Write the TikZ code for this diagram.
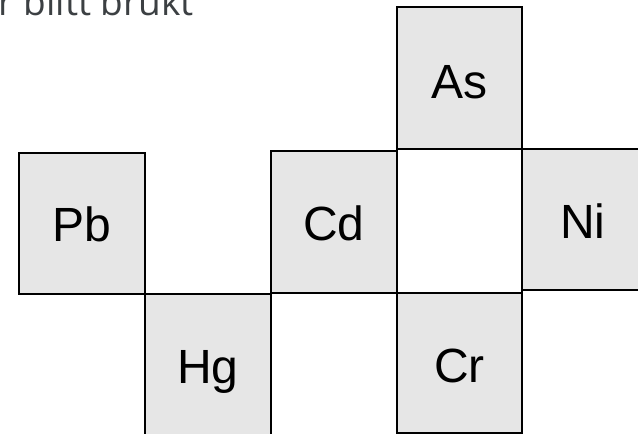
\documentclass[tikz,border=0pt]{standalone}
\usepackage{fontspec}
\setmainfont{Liberation Sans}
\newfontfamily\titlefont{Open Sans}
\definecolor{boxfill}{HTML}{E6E6E6}
\definecolor{titlegray}{HTML}{3C4043}
\tikzset{
  cell/.style={draw=black, line width=1.8pt, fill=boxfill, inner sep=0pt, outer sep=0pt},
  emptycell/.style={draw=black, line width=1.8pt, fill=white, inner sep=0pt, outer sep=0pt},
  lbl/.style={inner sep=0pt, anchor=base, font=\fontsize{48}{48}\selectfont, text=black}
}
\begin{document}
\begin{tikzpicture}[x=1pt,y=-1pt]
\useasboundingbox (0,0) rectangle (638,434);
\clip (0,0) rectangle (638,434);
\fill[white] (0,0) rectangle (638,434);
% boxes (px coordinates, y downward)
\node[cell, minimum width=126pt, minimum height=141pt] (pb) at (82,223.5) {};
\node[cell, minimum width=126pt, minimum height=150pt] (hg) at (208,369) {};
\node[cell, minimum width=126pt, minimum height=142pt] (cd) at (334,222) {};
\node[cell, minimum width=125pt, minimum height=142pt] (as) at (459.5,78) {};
\node[emptycell, minimum width=125pt, minimum height=144pt] (mid) at (459.5,221) {};
\node[cell, minimum width=130pt, minimum height=141pt] (ni) at (587,219.5) {};
\node[cell, minimum width=125pt, minimum height=140pt] (cr) at (459.5,363) {};
% labels
\node[lbl] (pbt) at (82,241.5) {Pb};
\node[lbl] (hgt) at (208,383) {Hg};
\node[lbl] (cdt) at (334,240) {Cd};
\node[lbl] (ast) at (459.5,98) {As};
\node[lbl] (nit) at (583,238) {Ni};
\node[lbl] (crt) at (459.5,382) {Cr};
% cut-off title text
\node[inner sep=0pt, anchor=base east, text=titlegray, font=\titlefont\fontsize{37}{37}\selectfont] (title) at (194,15) {r blitt brukt};
\end{tikzpicture}
\end{document}
